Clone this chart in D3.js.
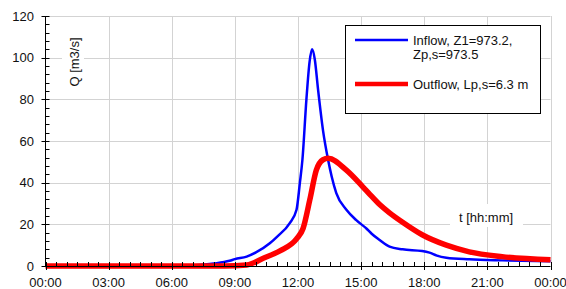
<!DOCTYPE html>
<html>
<head>
<meta charset="utf-8">
<script src="https://cdn.jsdelivr.net/npm/d3@7"></script>
<style>
  body { margin: 0; background: #fff; }
  text { font-family: "Liberation Sans", Arial, sans-serif; }
</style>
</head>
<body>
<script>
// hydrograph data (time in hours, Q in m3/s)
var inflowT = [0, 6, 7, 8, 8.75, 9, 9.56, 10, 10.66, 11, 11.6, 11.93, 12.09, 12.21, 12.4, 12.55, 12.67, 12.8, 12.95, 13.19, 13.43, 13.6, 13.82, 14.3, 14.77, 15.25, 15.5, 15.88, 16.35, 16.97, 17.9, 18.25, 18.6, 19.05, 20.14, 21.7, 24];
var inflowQ = [0, 0, 0.3, 1.2, 2.5, 3.3, 4.5, 6.5, 10.9, 14, 20.5, 27, 40, 51, 80, 98, 104, 99, 85, 65, 51, 43, 35, 27, 22, 18, 15.5, 12.5, 9.3, 8, 7.2, 6.4, 5, 4, 3.2, 2.7, 2.3];
var outflowT = [0, 8.5, 9.56, 10.35, 11.14, 11.93, 12.24, 12.56, 12.87, 13.19, 13.43, 14.3, 15.08, 15.4, 15.88, 16.35, 16.97, 17.9, 19.05, 20.14, 21.7, 24];
var outflowQ = [0, 0, 0.5, 3.7, 7.3, 13, 18, 31.7, 46, 51, 51.7, 46, 38, 34.5, 29.5, 25.5, 21, 15, 10, 6.8, 4.5, 3];
var xTicks = [0, 3, 6, 9, 12, 15, 18, 21, 24];
var xTickLabels = ['00:00', '03:00', '06:00', '09:00', '12:00', '15:00', '18:00', '21:00', '00:00'];
var yTicks = [0, 20, 40, 60, 80, 100, 120];
var legendLabels = [['Inflow, Z1=973.2,', 'Zp,s=973.5'], ['Outflow, Lp,s=6.3 m']];

var W = 566, H = 289;
var FS = 13;
var svg = d3.select('body').append('svg').attr('width', W).attr('height', H);

var x = d3.scaleLinear().domain([0, 24]).range([45.5, 550.5]);
var y = d3.scaleLinear().domain([0, 120]).range([266, 16]);

// grid
var grid = svg.append('g').attr('stroke', '#d3d3d3').attr('stroke-width', 1);
grid.selectAll('.gx').data(xTicks.slice(1)).enter().append('line')
    .attr('x1', d => Math.round(x(d)) + 0.5).attr('x2', d => Math.round(x(d)) + 0.5)
    .attr('y1', y(120)).attr('y2', y(0));
grid.selectAll('.gy').data(yTicks.slice(1)).enter().append('line')
    .attr('x1', x(0)).attr('x2', x(24))
    .attr('y1', d => Math.round(y(d)) + 0.5).attr('y2', d => Math.round(y(d)) + 0.5);

// white boxes behind axis titles
svg.append('rect').attr('x', 62).attr('y', 34).attr('width', 22).attr('height', 58).attr('fill', '#fff');
svg.append('rect').attr('x', 450).attr('y', 204).attr('width', 73).attr('height', 23).attr('fill', '#fff');

svg.append('text').attr('transform', 'translate(78.5,62) rotate(-90)')
    .attr('text-anchor', 'middle').attr('font-size', FS).attr('fill', '#111')
    .text('Q [m3/s]');
svg.append('text').attr('x', 486).attr('y', 221.5)
    .attr('text-anchor', 'middle').attr('font-size', FS).attr('fill', '#111')
    .text('t [hh:mm]');

// curves
var line = d3.line()
    .x(d => x(d[0]))
    .y(d => y(d[1]))
    .curve(d3.curveMonotoneX);

var inflow = d3.zip(inflowT, inflowQ);
var outflow = d3.zip(outflowT, outflowQ);

svg.append('path').attr('d', line(inflow))
    .attr('fill', 'none').attr('stroke', '#0000ff').attr('stroke-width', 2.5);
svg.append('path').attr('d', line(outflow))
    .attr('fill', 'none').attr('stroke', '#ff0000').attr('stroke-width', 5.5);

// axes
var ax = svg.append('g').attr('stroke', '#000').attr('stroke-width', 1);
ax.append('line').attr('x1', x(0)).attr('x2', x(0)).attr('y1', y(120)).attr('y2', y(0));
ax.append('line').attr('x1', x(0)).attr('x2', x(24)).attr('y1', Math.round(y(0)) + 0.5).attr('y2', Math.round(y(0)) + 0.5);

// y ticks
var yMinor = d3.range(0, 121, 4).filter(v => v % 20 !== 0);
ax.selectAll('.ym').data(yMinor).enter().append('line')
    .attr('x1', x(0)).attr('x2', x(0) + 4)
    .attr('y1', d => Math.round(y(d)) + 0.5).attr('y2', d => Math.round(y(d)) + 0.5);
ax.selectAll('.yM').data(yTicks).enter().append('line')
    .attr('x1', x(0) - 4).attr('x2', x(0) + 4)
    .attr('y1', d => Math.round(y(d)) + 0.5).attr('y2', d => Math.round(y(d)) + 0.5);
svg.selectAll('.yl').data(yTicks).enter().append('text')
    .attr('x', 34).attr('y', d => y(d) + 4.5)
    .attr('text-anchor', 'end').attr('font-size', FS).attr('fill', '#111')
    .text(d => d);

// x ticks
var xMinor = d3.range(0, 24.01, 0.5).filter(v => v % 3 !== 0);
ax.selectAll('.xm').data(xMinor).enter().append('line')
    .attr('x1', d => Math.round(x(d)) + 0.5).attr('x2', d => Math.round(x(d)) + 0.5)
    .attr('y1', y(0) - 4).attr('y2', y(0));
ax.selectAll('.xM').data(xTicks).enter().append('line')
    .attr('x1', d => Math.round(x(d)) + 0.5).attr('x2', d => Math.round(x(d)) + 0.5)
    .attr('y1', y(0) - 4).attr('y2', y(0) + 4);
svg.selectAll('.xl').data(xTicks).enter().append('text')
    .attr('x', d => x(d)).attr('y', 286.5)
    .attr('text-anchor', 'middle').attr('font-size', FS).attr('fill', '#111')
    .text((d, i) => xTickLabels[i]);

// legend
var lg = svg.append('g');
lg.append('rect').attr('x', 345.5).attr('y', 25.5).attr('width', 195).attr('height', 88)
    .attr('fill', '#fff').attr('stroke', '#000').attr('stroke-width', 1);
lg.append('line').attr('x1', 355).attr('x2', 408).attr('y1', 40).attr('y2', 40)
    .attr('stroke', '#0000ff').attr('stroke-width', 2.5);
lg.append('line').attr('x1', 355).attr('x2', 408).attr('y1', 84).attr('y2', 84)
    .attr('stroke', '#ff0000').attr('stroke-width', 4.5);
lg.append('text').attr('x', 413).attr('y', 44.5).attr('font-size', FS).attr('fill', '#111').text(legendLabels[0][0]);
lg.append('text').attr('x', 413).attr('y', 59).attr('font-size', FS).attr('fill', '#111').text(legendLabels[0][1]);
lg.append('text').attr('x', 413).attr('y', 88.5).attr('font-size', FS).attr('fill', '#111').text(legendLabels[1][0]);
</script>
</body>
</html>
